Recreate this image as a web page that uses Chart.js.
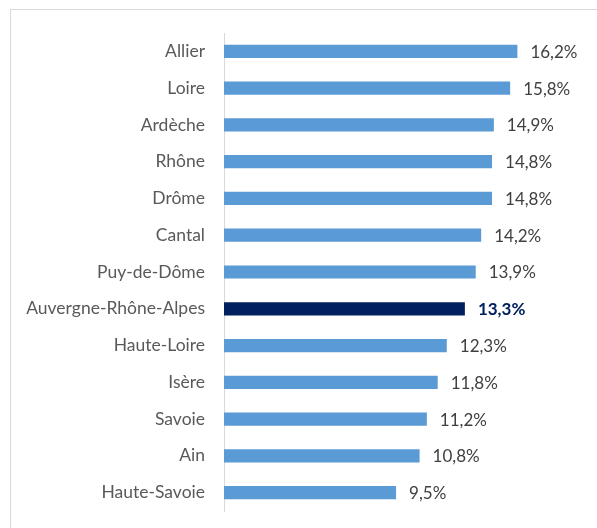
<!DOCTYPE html>
<html>
<head>
<meta charset="utf-8">
<script src="https://cdn.jsdelivr.net/npm/chart.js@4/dist/chart.umd.min.js"></script>
<style>
  html, body { margin: 0; padding: 0; background: #fff; }
  #wrap { width: 597px; height: 528px; }
</style>
</head>
<body>
<div id="wrap"><canvas id="myChart" width="597" height="528"></canvas></div>
<script>
const departements = ['Allier', 'Loire', 'Ardèche', 'Rhône', 'Drôme', 'Cantal', 'Puy-de-Dôme',
    'Auvergne-Rhône-Alpes', 'Haute-Loire', 'Isère', 'Savoie', 'Ain', 'Haute-Savoie'];
const taux = [16.2, 15.8, 14.9, 14.8, 14.8, 14.2, 13.9, 13.3, 12.3, 11.8, 11.2, 10.8, 9.5];
const regionLabel = 'Auvergne-Rhône-Alpes';

const blue = '#5B9BD5';
const navy = '#002060';

// frame around the chart
const framePlugin = {
    id: 'frame',
    beforeDraw(chart) {
        const c = chart.ctx;
        c.save();
        c.strokeStyle = '#d9d9d9';
        c.lineWidth = 1;
        c.strokeRect(10.5, 9.5, 700, 700);
        c.restore();
    }
};

// value labels at the end of each bar
const valueLabels = {
    id: 'valueLabels',
    afterDatasetsDraw(chart) {
        const c = chart.ctx;
        const meta = chart.getDatasetMeta(0);
        c.save();
        c.textBaseline = 'middle';
        c.textAlign = 'left';
        meta.data.forEach((bar, i) => {
            const isRegion = departements[i] === regionLabel;
            c.font = (isRegion ? 'bold ' : '') + '17px Lato';
            c.fillStyle = isRegion ? navy : '#404040';
            c.fillText(taux[i].toFixed(1).replace('.', ',') + '%', bar.x + 13, bar.y + 1);
        });
        c.restore();
    }
};

const ctx = document.getElementById('myChart').getContext('2d');
const myChart = new Chart(ctx, {
    type: 'bar',
    data: {
        labels: departements,
        datasets: [{
            data: taux,
            backgroundColor: departements.map(d => d === regionLabel ? navy : blue),
            barPercentage: 0.36,
            categoryPercentage: 1
        }]
    },
    options: {
        indexAxis: 'y',
        responsive: false,
        animation: false,
        layout: { padding: { top: 33, bottom: 17, right: 47, left: 0 } },
        plugins: { legend: { display: false }, tooltip: { enabled: false } },
        scales: {
            x: { display: false, min: 0, max: 18 },
            y: {
                afterFit(scale) {
                    scale.width = 224;
                    scale.paddingTop = 0;
                    scale.paddingBottom = 0;
                },
                grid: { display: false, drawTicks: false },
                border: { display: true, color: '#d9d9d9' },
                ticks: {
                    padding: 19,
                    color: '#595959',
                    font: { family: 'Lato', size: 17.5 }
                }
            }
        }
    },
    plugins: [framePlugin, valueLabels]
});
</script>
</body>
</html>
